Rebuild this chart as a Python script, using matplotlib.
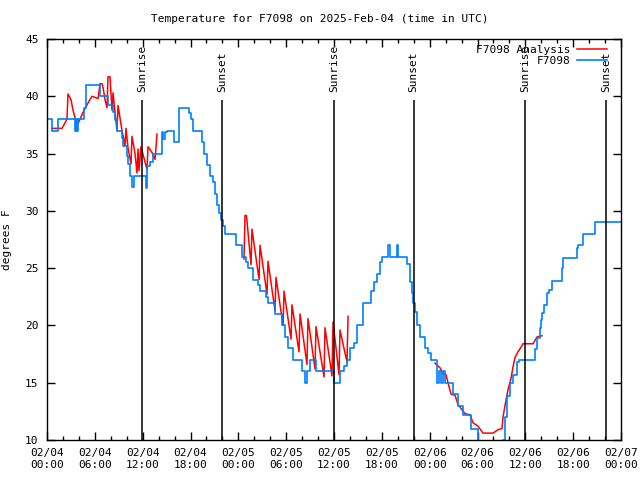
import matplotlib
matplotlib.use('agg')
import matplotlib.pyplot as plt
import matplotlib.dates as mdates
import numpy as np
import pandas as pd

start = pd.Timestamp('2025-02-04 00:00')

# station temperature (hours since start, deg F), step data
obs_hours = [0.0, 0.63, 1.38, 3.51, 3.64, 3.76, 3.89, 4.64, 4.89, 6.65, 7.65, 8.28, 8.53, 8.78,
             9.41, 9.53, 10.04, 10.16, 10.41, 10.66, 10.91, 12.42, 12.54, 12.92, 13.3, 14.43,
             14.55, 14.8, 15.05, 15.93, 16.56, 17.81, 18.06, 18.31, 19.44, 19.69, 20.07, 20.45,
             20.82, 21.07, 21.32, 21.58, 21.83, 22.08, 22.33, 23.71, 24.46, 24.96, 25.21, 25.84,
             26.47, 26.72, 27.47, 27.72, 28.6, 29.48, 29.86, 30.23, 30.86, 31.99, 32.36, 32.61,
             32.99, 33.74, 36.0, 36.75, 37.26, 37.63, 38.01, 38.51, 38.89, 39.64, 40.64, 41.02,
             41.4, 41.77, 42.02, 42.78, 43.03, 43.9, 44.03, 45.16, 45.54, 45.79, 45.91, 46.16,
             46.41, 46.79, 47.42, 47.79, 48.17, 48.92, 49.18, 49.42, 49.67, 49.92, 50.93, 51.55,
             52.18, 53.19, 54.07, 57.2, 57.46, 57.71, 58.09, 58.46, 58.96, 59.21, 61.22, 61.47,
             61.84, 61.97, 62.09, 62.34, 62.72, 62.97, 63.35, 64.6, 64.73, 66.49, 66.61, 67.24,
             68.74, 72.0]
obs_temp = [38, 37, 38, 37, 38, 37, 38, 39, 41, 40, 39.2, 38.6, 37.9, 37.0,
            36.4, 35.7, 34.8, 34.1, 33.0, 32.1, 33.0, 32.0, 33.9, 34.3, 35.0, 36.9,
            36.3, 36.9, 37.0, 36.0, 39.0, 38.5, 38.0, 37.0, 36.0, 35.0, 34.0, 33.0,
            32.5, 31.5, 30.5, 29.8, 29.2, 28.7, 28.0, 27.0, 26.0, 25.5, 25.0, 24.0,
            23.5, 23.0, 22.5, 22.0, 21.0, 20.0, 19.0, 18.0, 17.0, 16.0, 15.0, 16.0,
            17.0, 16.0, 15.0, 16.0, 16.5, 17.0, 18.0, 18.5, 20.0, 22.0, 23.0, 23.8,
            24.5, 25.5, 26.0, 27.0, 26.0, 27.0, 26.0, 25.4, 23.8, 22.8, 22.0, 21.2,
            20.0, 19.0, 18.0, 17.6, 17.0, 15.0, 16.0, 15.0, 16.0, 15.0, 14.0, 13.0,
            12.2, 11.0, 9.0, 10.0, 12.0, 13.8, 15.0, 15.7, 16.8, 17.0, 17.9, 18.9,
            19.8, 20.5, 21.1, 21.8, 22.8, 23.1, 23.9, 25.0, 25.9, 26.8, 27.0, 28.0,
            29.0, 29.0]

# analysis (three runs, separated by nan)
ana_hours = [0.63, 1.88, 2.51, 2.63, 3.01, 3.26, 3.64, 3.89, 4.52, 5.14, 5.64, 6.4, 6.65, 6.9,
             7.02, 7.28, 7.53, 7.65, 7.9, 8.15, 8.28, 8.53, 8.78, 8.91, 9.41, 9.78, 9.91, 10.16,
             10.54, 10.66, 11.04, 11.29, 11.42, 11.54, 11.79, 12.54, 12.67, 13.17, 13.55, 13.8,
             np.nan,
             24.71, 24.84, 25.02, 25.59, 25.71, 26.6, 26.72, 27.6, 27.72, 28.6, 28.72, 29.61,
             29.73, 30.61, 30.73, 31.61, 31.74, 32.61, 32.74, 33.62, 33.74, 34.75, 34.87, 35.75,
             35.88, 36.63, 36.75, 37.63, 37.76,
             np.nan,
             48.67, 49.3, 49.67, 50.05, 50.3, 50.68, 51.18, 51.55, 52.43, 53.06, 53.44, 54.07,
             54.69, 55.95, 56.57, 57.08, 57.2, 57.58, 57.83, 58.21, 58.46, 58.71, 59.08, 59.46,
             59.71, 60.96, 61.47, 62.09]
ana_temp = [37.2, 37.2, 38.0, 40.2, 39.7, 38.8, 37.8, 37.6, 38.6, 39.4, 40.0, 39.8, 41.1, 41.1,
            40.8, 39.7, 39.0, 41.7, 41.7, 38.8, 40.3, 38.6, 37.0, 39.2, 37.0, 35.7, 37.2, 35.5,
            34.1, 36.5, 35.0, 33.3, 35.4, 33.5, 35.6, 33.6, 35.6, 35.1, 34.5, 36.7,
            np.nan,
            25.8, 29.6, 29.6, 25.3, 28.4, 24.0, 27.0, 22.7, 25.6, 21.3, 24.2, 20.0,
            23.0, 18.8, 21.8, 17.7, 21.0, 16.6, 20.6, 16.2, 19.9, 15.5, 19.8, 15.6,
            20.3, 15.7, 19.6, 16.8, 20.8,
            np.nan,
            16.7, 16.3, 15.8, 15.7, 15.0, 14.0, 13.9, 13.1, 12.3, 12.2, 11.5, 11.2,
            10.6, 10.6, 10.9, 11.0, 12.0, 13.5, 14.4, 15.4, 16.4, 17.2, 17.7, 18.1,
            18.4, 18.4, 19.0, 19.1]

sun_hours = [11.9, 22.0, 36.0, 46.0, 60.0, 70.1]
sun_labels = ['Sunrise', 'Sunset', 'Sunrise', 'Sunset', 'Sunrise', 'Sunset']

font = 'DejaVu Sans Mono'
plt.rcParams['font.family'] = font
plt.rcParams['font.size'] = 8

obs_t = start + pd.to_timedelta(obs_hours, unit='h')
ana_t = start + pd.to_timedelta(ana_hours, unit='h')
sun_t = start + pd.to_timedelta(sun_hours, unit='h')

fig = plt.figure(figsize=(6.4, 4.8), dpi=100)
ax = fig.add_axes([47 / 640, 1 - 440 / 480, 574 / 640, 401 / 480])

ax.plot(ana_t, ana_temp, color='#ff0000', lw=1.1, label='F7098 Analysis')
ax.plot(obs_t, obs_temp, color='#0080ff', lw=1.2, drawstyle='steps-post', label='F7098')

for t, lab in zip(sun_t, sun_labels):
    ax.vlines(t, 10, 39.7, color='k', lw=1.1)
    ax.text(t, 40.4, lab, rotation=90, ha='center', va='bottom')

ax.set_xlim(start, start + pd.Timedelta(hours=72))
ax.set_ylim(10, 45)
ax.set_yticks(np.arange(10, 46, 5))
ax.xaxis.set_major_locator(mdates.HourLocator(byhour=[0, 6, 12, 18]))
ax.xaxis.set_minor_locator(mdates.HourLocator(byhour=range(0, 24, 2)))
ax.xaxis.set_major_formatter(mdates.DateFormatter('%m/%d\n%H:%M'))
ax.tick_params(which='both', direction='in', top=True, right=True, width=1)
ax.tick_params(which='major', length=6, pad=6)
ax.tick_params(which='minor', length=3)
for s in ax.spines.values():
    s.set_linewidth(1)

ax.set_ylabel('degrees F')
ax.yaxis.set_label_coords(-35 / 574, 0.5)
fig.text(0.5, 1 - 19 / 480, 'Temperature for F7098 on 2025-Feb-04 (time in UTC)',
         ha='center', va='center')

ax.legend(loc='upper right', frameon=False, markerfirst=False, handlelength=2.7,
          handletextpad=0.6, labelspacing=0.15, borderaxespad=0.1,
          bbox_to_anchor=(0.985, 1.0))

fig.savefig('out.png', dpi=100)
